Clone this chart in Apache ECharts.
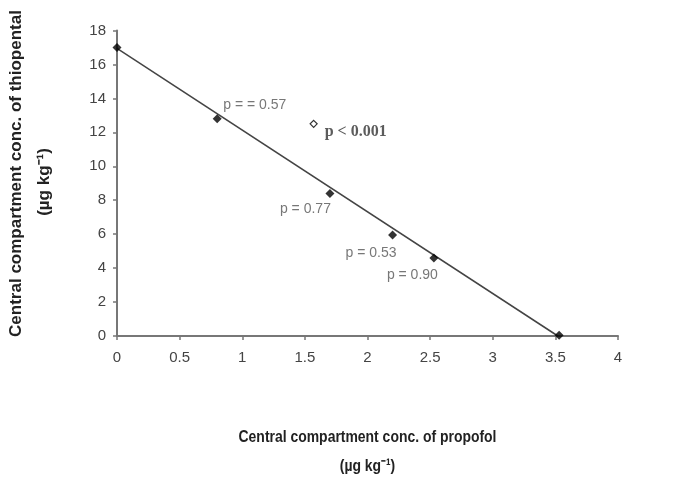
<!DOCTYPE html>
<html>
<head>
<meta charset="utf-8">
<script src="https://cdn.jsdelivr.net/npm/echarts@6/dist/echarts.min.js"></script>
<style>
html,body{margin:0;padding:0;background:#fff;}
#chart{width:673px;height:484px;}
</style>
</head>
<body>
<div id="chart"></div>
<script>
// ---- data ----
var xTitleLines = ["Central compartment conc. of propofol", "(\u00b5g kg\u207b\u00b9)"];
var yTitleLines = ["Central compartment conc. of thiopental", "(\u00b5g kg\u207b\u00b9)"];
var propofol = [0, 0.8, 1.7, 2.2, 2.53, 3.53];
var thiopental = [17.0, 12.8, 8.4, 5.95, 4.6, 0.05];
var pointLabels = ["", "p = = 0.57", "p = 0.77", "p = 0.53", "p = 0.90", ""];
var outlierX = [1.57];
var outlierY = [12.5];
var outlierLabel = ["p < 0.001"];
var fitX = [0, 3.52];
var fitY = [16.95, 0];

// ---- label layout (style, not data) ----
var labelLayout = [
  null,
  {align: 'left', offset: [6, -14]},
  {align: 'right', offset: [1, 16]},
  {align: 'right', offset: [4, 18]},
  {align: 'left', offset: [-47, 17]},
  null
];

var pts = propofol.map(function (x, i) {
  var d = {value: [x, thiopental[i]]};
  if (pointLabels[i]) {
    d.label = {
      show: true, position: 'inside', formatter: pointLabels[i],
      align: labelLayout[i].align, verticalAlign: 'middle',
      offset: labelLayout[i].offset,
      color: '#555', fontSize: 14, fontFamily: 'Liberation Sans'
    };
  }
  return d;
});

var titleStyle = {fontFamily: 'Liberation Sans', fontWeight: 'bold', fontSize: 17, fill: '#222', align: 'center', verticalAlign: 'middle'};
function ts(text) { return Object.assign({text: text}, titleStyle); }

var chart = echarts.init(document.getElementById('chart'), null, {renderer: 'canvas'});
chart.setOption({
  animation: false,
  backgroundColor: '#fff',
  grid: {left: 117, right: 55, top: 30.5, bottom: 148},
  xAxis: {
    type: 'value', min: 0, max: 4, interval: 0.5,
    axisLine: {show: true, lineStyle: {color: '#777', width: 2}},
    axisTick: {show: true, inside: false, length: 4, lineStyle: {color: '#777', width: 1.5}},
    axisLabel: {fontFamily: 'Liberation Sans', fontSize: 15, color: '#444', margin: 14},
    splitLine: {show: false}
  },
  yAxis: {
    type: 'value', min: 0, max: 18, interval: 2,
    axisLine: {show: true, lineStyle: {color: '#777', width: 2}},
    axisTick: {show: true, inside: false, length: 4, lineStyle: {color: '#777', width: 1.5}},
    axisLabel: {fontFamily: 'Liberation Sans', fontSize: 15, color: '#444', margin: 11},
    splitLine: {show: false}
  },
  graphic: [
    {type: 'text', x: 367.5, y: 437, scaleX: 0.82, style: ts(xTitleLines[0])},
    {type: 'text', x: 367.5, y: 466, scaleX: 0.82, style: ts(xTitleLines[1])},
    {type: 'text', x: 16, y: 173.5, rotation: Math.PI / 2, style: ts(yTitleLines[0])},
    {type: 'text', x: 44, y: 182, rotation: Math.PI / 2, style: ts(yTitleLines[1])}
  ],
  series: [
    {
      type: 'line', data: fitX.map(function (x, i) { return [x, fitY[i]]; }),
      showSymbol: false, symbol: 'none',
      lineStyle: {color: '#444', width: 1.5}, z: 2
    },
    {
      type: 'scatter', data: pts, symbol: 'diamond', symbolSize: 9,
      itemStyle: {color: '#000'}, z: 3
    },
    {
      type: 'scatter',
      data: outlierX.map(function (x, i) {
        return {value: [x, outlierY[i]], label: {
          show: true, position: 'inside', formatter: outlierLabel[i],
          align: 'left', verticalAlign: 'middle', offset: [11, 8],
          color: '#333', fontSize: 16, fontWeight: 'bold', fontFamily: 'Liberation Serif'
        }};
      }),
      symbol: 'diamond', symbolSize: 7,
      itemStyle: {color: '#fff', borderColor: '#000', borderWidth: 1.2}, z: 3
    }
  ]
});
</script>
</body>
</html>
